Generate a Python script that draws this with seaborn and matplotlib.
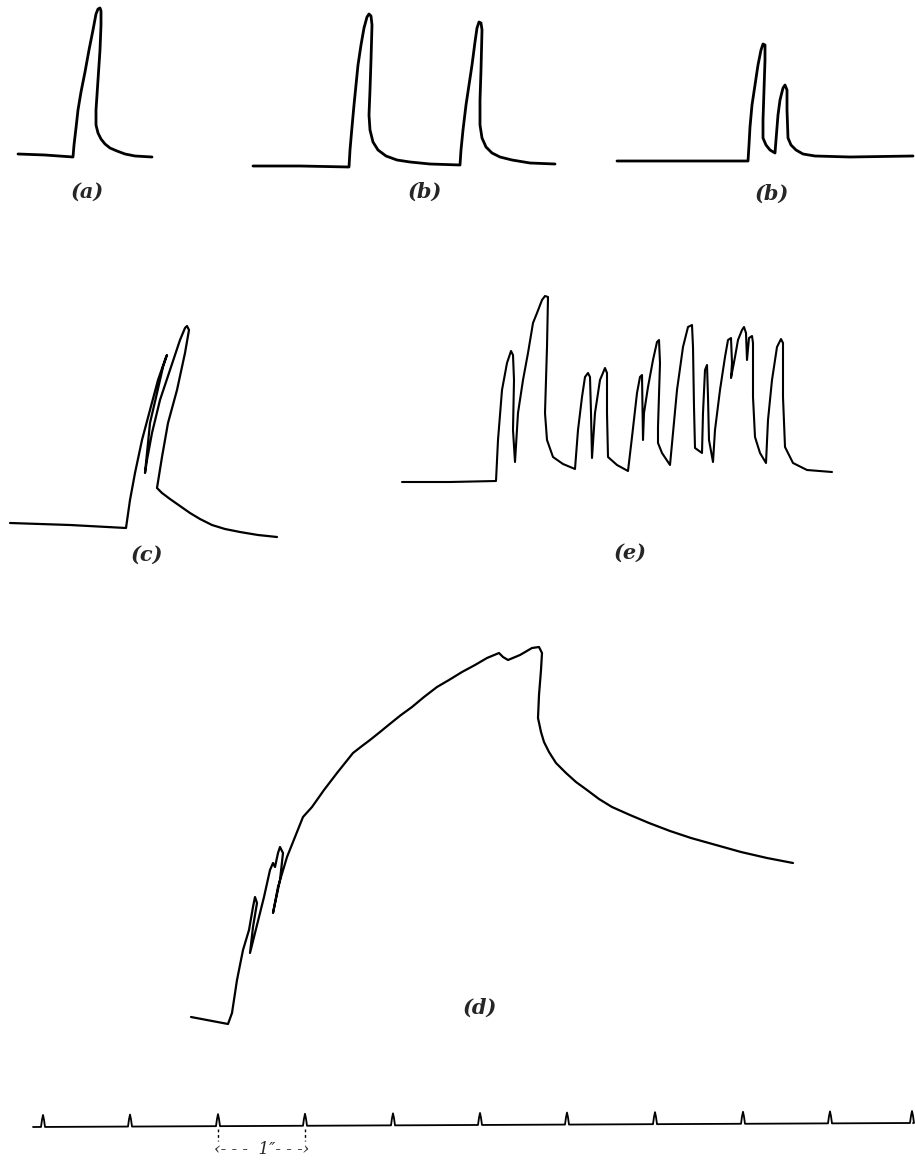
import numpy as np
import matplotlib
matplotlib.use("Agg")
import matplotlib.pyplot as plt
import seaborn as sns

# traces, in page pixels (x right, y down)

# (a) single twitch
a_x = [18, 45, 73, 74, 76, 78, 81, 85, 89, 93, 96, 98, 100, 101, 101, 100, 98, 96,
       96, 98, 101, 105, 110, 117, 125, 135, 152]
a_y = [154, 155, 157, 145, 128, 110, 92, 72, 50, 30, 14, 9, 8, 11, 25, 50, 80, 110,
       125, 133, 139, 144, 148, 151, 154, 156, 157]

# (b) two separate twitches
b1_x = [253, 300, 349, 350, 352, 354, 356, 358, 361, 364, 367, 369, 371, 372, 371, 370, 369, 370,
        373, 378, 386, 397, 410, 430, 460,
        461, 463, 466, 469, 472, 475, 477, 479, 481, 482, 481, 480, 480, 482, 486, 492, 500,
        512, 530, 555]
b1_y = [166, 166, 167, 150, 127, 105, 85, 65, 45, 28, 17, 14, 16, 25, 60, 90, 115, 130,
        142, 150, 156, 160, 162, 164, 165,
        150, 130, 105, 85, 65, 42, 28, 22, 23, 30, 70, 100, 125, 138, 147, 153, 157,
        160, 163, 164]

# (b) two twitches close together
b2_x = [617, 680, 748, 749, 750, 752, 755, 758, 761, 763, 765, 765, 764, 763, 763, 766, 770, 775,
        776, 778, 780, 783, 785, 787, 787, 788, 791, 796, 803, 815, 850, 913]
b2_y = [161, 161, 161, 145, 127, 105, 85, 65, 50, 44, 45, 60, 90, 120, 138, 145, 150, 153,
        140, 115, 100, 88, 85, 90, 110, 138, 145, 150, 154, 156, 157, 156]

# (c) summed contractions
c_x = [10, 70, 126, 130, 135, 142, 150, 158, 166, 167, 163, 157, 150, 145, 147, 152, 160, 170,
       180, 185, 187, 189, 185, 177, 168, 162, 157, 162, 170, 180, 190, 200, 212, 225, 240,
       258, 277]
c_y = [523, 525, 528, 500, 473, 440, 410, 380, 357, 355, 367, 393, 423, 473, 460, 433, 400, 370,
       340, 328, 326, 330, 353, 390, 423, 457, 488, 493, 499, 506, 513, 519, 525, 529, 532,
       535, 537]

# (e) irregular series
e_x = [402, 450, 496, 498, 502, 507, 511, 513, 514, 513, 515, 518, 523, 528, 533, 537, 542, 545, 548,
       547, 545, 547, 553, 563, 575, 578, 582, 585, 588, 590, 591, 592, 595, 600, 605, 607, 607,
       608, 617, 628, 632, 637, 640, 642, 643, 644, 648, 653, 657, 659, 660, 658, 658, 662, 670,
       673, 677, 683, 688, 692, 693, 694, 695, 702, 703, 705, 707, 708, 709, 713,
       715, 720, 725, 728, 731, 732, 731, 735, 738, 742, 744, 746, 747, 749, 752, 753, 753, 755,
       760, 766, 768, 772, 777, 781, 783, 783, 785, 793, 807, 832]
e_y = [482, 482, 481, 440, 390, 363, 351, 355, 380, 430, 462, 413, 380, 353, 323, 313, 300, 296, 297,
       347, 413, 440, 457, 464, 469, 430, 397, 377, 373, 377, 413, 458, 413, 380, 368, 373, 413,
       457, 465, 471, 437, 393, 377, 375, 440, 413, 387, 360, 342, 340, 363, 427, 443, 453, 465,
       433, 390, 347, 327, 325, 347, 407, 448, 453, 413, 370, 365, 397, 440, 462,
       430, 390, 357, 340, 338, 363, 378, 357, 340, 330, 327, 333, 360, 338, 336, 343, 397, 437,
       453, 463, 420, 380, 347, 339, 343, 397, 447, 463, 470, 472]

# (d) tetanus
d_x = [191, 228, 232, 237, 243, 249, 253, 255, 257, 253, 250, 255, 264, 270, 273, 275, 278, 280,
       283, 280, 273, 278, 287, 295, 303, 312, 324, 337, 345, 353, 362, 370, 380, 391, 401, 412,
       424, 437, 449, 462, 475, 487, 499, 503, 508, 520, 532, 539, 542, 541, 539, 538, 541, 544,
       549, 556, 566, 576, 587, 599, 612, 630, 649, 670, 691, 716, 741, 767, 793]
d_y = [1017, 1024, 1013, 980, 950, 930, 907, 897, 903, 927, 953, 933, 897, 870, 863, 867, 853, 847,
       853, 880, 913, 887, 857, 837, 817, 807, 790, 773, 763, 753, 746, 740, 732, 723, 715, 707,
       697, 687, 680, 672, 665, 658, 653, 657, 660, 655, 648, 647, 653, 670, 695, 718, 732, 742,
       752, 763, 773, 782, 790, 799, 807, 815, 823, 831, 838, 845, 852, 858, 863]

# time marker, one tick per second
tick_x = [43, 130, 218, 305, 393, 480, 567, 655, 743, 830, 912]
base_left, base_right = 1127, 1123
tick_h = 12

labels = ["(a)", "(b)", "(b)", "(c)", "(e)", "(d)"]
label_xy = [(87, 192), (425, 192), (772, 194), (147, 555), (630, 553), (480, 1008)]

sns.set_style("white")

fig = plt.figure(figsize=(9.15, 11.63), dpi=100)
ax = fig.add_axes([0, 0, 1, 1])

traces = [(a_x, a_y, 2.0), (b1_x, b1_y, 2.0), (b2_x, b2_y, 2.0),
          (c_x, c_y, 1.6), (e_x, e_y, 1.5), (d_x, d_y, 1.6)]
for xs, ys, lw in traces:
    sns.lineplot(x=xs, y=ys, sort=False, estimator=None, color="black", lw=lw, ax=ax)

# time trace: flat line with a narrow spike at each tick
tx, ty = [33], [base_left]
for t in tick_x:
    yb = base_left + (base_right - base_left) * (t - 33) / (913 - 33)
    tx += [t - 2, t - 1, t, t + 1, t + 2]
    ty += [yb, yb - tick_h * 0.6, yb - tick_h, yb - tick_h * 0.6, yb]
tx.append(913)
ty.append(base_right)
sns.lineplot(x=tx, y=ty, sort=False, estimator=None, color="black", lw=1.3, ax=ax)

# one-second bracket under the third and fourth ticks
for t in tick_x[2:4]:
    ax.plot([t, t], [1129, 1141], color="black", lw=1.0, ls=(0, (2, 2)))
ax.text((tick_x[2] + tick_x[3]) / 2, 1150, "‹- - -  1″- - -›", ha="center", va="center",
        fontsize=12, style="italic", family=["DejaVu Serif"])

for lab, (lx, ly) in zip(labels, label_xy):
    ax.text(lx, ly, lab, ha="center", va="center", fontsize=15, style="italic",
            fontweight="bold", family=["DejaVu Serif"])

ax.set_xlim(0, 915)
ax.set_ylim(1163, 0)
ax.axis("off")

fig.savefig("out.png", dpi=100, facecolor="white")
